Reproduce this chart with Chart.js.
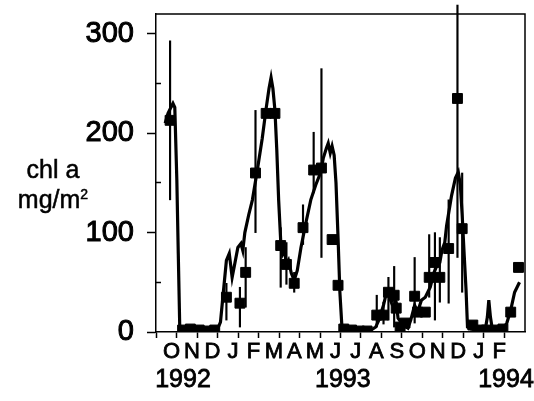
<!DOCTYPE html>
<html>
<head>
<meta charset="utf-8">
<script src="https://cdn.jsdelivr.net/npm/chart.js@4"></script>
<style>
  body { margin: 0; background: #fff; }
  #wrap { position: relative; width: 534px; height: 401px; }
  #ylab {
    position: absolute; left: 0; top: 154px; width: 106px;
    font: 25px "Liberation Sans", Arial, sans-serif; line-height: 30px;
    text-align: center; color: #000; -webkit-text-stroke: 0.5px #000;
  }
  #ylab sup { font-size: 14px; line-height: 0; }
</style>
</head>
<body>
<div id="wrap">
  <canvas id="chart" width="534" height="401"></canvas>
  <div id="ylab">chl a<br>mg/m<sup>2</sup></div>
</div>
<script>
// x values are months counted from 1 Oct 1992
const monthLetters = ['O','N','D','J','F','M','A','M','J','J','A','S','O','N','D','J','F'];
const yearLabels = ['1992', '1993', '1994'];
const yearPositions = [1.28, 8.86, 16.6];
const yTicks = [0, 100, 200, 300];
const yMinorTicks = [50, 150, 250];

// continuous record
const lineMonths = [0.19,0.33,0.47,0.57,0.66,0.76,0.83,0.90,1.00,1.14,1.33,1.52,1.71,1.90,2.09,2.32,2.56,2.75,2.89,3.03,
  3.18,3.32,3.46,3.60,3.74,3.89,3.98,4.08,4.27,4.45,4.69,4.93,5.12,5.26,5.36,5.45,5.55,5.64,5.73,5.83,
  5.92,6.02,6.11,6.21,6.35,6.49,6.64,6.82,7.06,7.30,7.54,7.77,7.91,8.06,8.15,8.25,8.34,8.44,8.53,8.63,
  8.72,8.82,9.00,9.43,9.91,10.24,10.47,10.62,10.85,11.00,11.09,11.23,11.37,11.47,11.56,11.80,12.04,12.18,12.37,12.51,
  12.70,12.89,13.13,13.32,13.46,13.60,13.70,13.84,13.93,14.17,14.36,14.50,14.60,14.69,14.79,14.88,14.95,15.12,15.36,15.59,
  15.83,15.92,15.99,16.07,16.16,16.40,16.68,16.87,17.06,17.25,17.49];
const lineValues = [210,220,226,230,226,153,79,7,3,4,5,3,4,2,3,2,3,3,10,40,
  72,79,55,70,85,89,82,100,118,133,163,195,225,245,256,245,223,183,133,92,
  78,82,68,72,59,52,62,85,110,133,148,160,175,185,190,180,187,178,150,95,
  40,5,5,4,3,2,5,12,27,40,37,30,38,30,14,7,4,12,27,20,
  32,35,45,60,67,70,82,90,107,137,155,161,148,118,77,42,5,3,2,3,
  4,15,32,15,3,2,3,9,22,40,50];

// sampled means with ranges (null = no bar visible)
const sampleMonths = [0.43,1.04,1.42,1.85,2.27,2.61,3.18,3.84,4.12,4.60,5.12,5.55,5.83,6.11,6.49,6.92,7.44,7.82,8.34,8.63,
  8.91,9.29,9.67,10.05,10.52,10.85,11.09,11.37,11.47,11.66,11.90,12.37,12.51,12.89,13.08,13.36,13.60,14.03,14.46,14.69,
  15.21,15.55,15.88,16.30,16.68,17.06,17.44];
const sampleValues = [213,2,3,2,1,2,35,29,60,160,220,220,87,68,49,105,163,165,93,47,
  3,2,1,1,17,17,40,37,24,5,9,36,20,20,55,70,55,84,235,104,
  7,2,2,2,3,20,65];
const sampleLow = [133,null,null,null,null,null,12,5,25,100,null,null,45,48,40,88,140,75,null,null,
  null,null,null,null,5,8,12,5,null,null,null,9,null,null,35,12,30,29,75,40,
  null,null,null,null,null,null,null];
const sampleHigh = [293,null,null,null,null,null,49,45,85,223,null,null,105,90,60,128,201,265,null,null,
  null,null,null,null,37,30,55,66,null,null,null,75,null,null,98,100,95,133,329,160,
  null,null,null,null,null,null,null];

const font = '"Liberation Sans", Arial, sans-serif';

const frame = {
  id: 'frame',
  afterDraw(chart) {
    const { ctx, chartArea: a } = chart;
    ctx.save();
    ctx.strokeStyle = '#000';
    ctx.lineWidth = 1.5;
    ctx.beginPath();
    ctx.moveTo(a.left, a.top);
    ctx.lineTo(a.right, a.top);
    ctx.lineTo(a.right, a.bottom);
    ctx.stroke();
    ctx.restore();
  }
};

const noPad = (s) => { s.paddingTop = 0; s.paddingBottom = 0; s.paddingLeft = 0; s.paddingRight = 0; };

const errData = [];
sampleMonths.forEach((m, i) => {
  if (sampleLow[i] !== null) errData.push({ x: m, y: [sampleLow[i], sampleHigh[i]] });
});

new Chart(document.getElementById('chart'), {
  type: 'line',
  data: {
    datasets: [
      {
        type: 'line',
        data: lineMonths.map((m, i) => ({ x: m, y: lineValues[i] })),
        borderColor: '#000',
        borderWidth: 3.2,
        pointRadius: 0,
        tension: 0
      },
      {
        type: 'line',
        data: sampleMonths.map((m, i) => ({ x: m, y: sampleValues[i] })),
        showLine: false,
        pointStyle: 'rect',
        pointRadius: 7,
        pointBackgroundColor: '#000',
        pointBorderColor: '#000',
        pointBorderWidth: 1
      },
      {
        type: 'bar',
        data: errData,
        backgroundColor: '#000',
        barThickness: 1.5,
        clip: false
      }
    ]
  },
  options: {
    responsive: false,
    animation: false,
    layout: { padding: { top: 14, right: 9, left: 0, bottom: 0 } },
    plugins: { legend: { display: false }, tooltip: { enabled: false } },
    scales: {
      x: {
        type: 'linear',
        position: 'bottom',
        weight: 0,
        min: 0,
        max: 17.5,
        afterBuildTicks: (s) => {
          const t = [];
          for (let v = 0; v <= 17; v += 0.5) t.push({ value: v });
          s.ticks = t;
        },
        afterFit: (s) => { s.height = 33; noPad(s); },
        grid: {
          drawOnChartArea: false,
          tickLength: 6,
          tickWidth: 1.5,
          tickColor: (c) => (c.tick && Number.isInteger(c.tick.value)) ? '#000' : 'rgba(0,0,0,0)'
        },
        border: { color: '#000', width: 1.5 },
        ticks: {
          autoSkip: false,
          maxRotation: 0,
          padding: 1,
          color: '#000',
          textStrokeColor: '#000',
          textStrokeWidth: 0.8,
          font: { family: font, size: 22 },
          callback: (v) => Number.isInteger(v) ? '' : monthLetters[Math.floor(v)]
        }
      },
      years: {
        type: 'linear',
        axis: 'x',
        position: 'bottom',
        weight: 1,
        min: 0,
        max: 17.5,
        afterBuildTicks: (s) => { s.ticks = yearPositions.map(v => ({ value: v })); },
        afterFit: (s) => { s.height = 36; noPad(s); },
        grid: { display: false, drawTicks: false },
        border: { display: false },
        ticks: {
          autoSkip: false,
          maxRotation: 0,
          padding: 0,
          color: '#000',
          textStrokeColor: '#000',
          textStrokeWidth: 0.8,
          font: { family: font, size: 25 },
          callback: (v) => yearLabels[yearPositions.indexOf(v)]
        }
      },
      y: {
        min: 0,
        max: 320,
        afterBuildTicks: (s) => { s.ticks = yTicks.map(v => ({ value: v })); },
        afterFit: (s) => { s.width = 156; noPad(s); },
        grid: { drawOnChartArea: false, tickLength: 9, tickWidth: 1.5, tickColor: '#000' },
        border: { color: '#000', width: 1.5 },
        ticks: {
          padding: 13,
          color: '#000',
          textStrokeColor: '#000',
          textStrokeWidth: 1,
          font: { family: font, size: 29 }
        }
      },
      yMinor: {
        axis: 'y',
        position: { x: 0 },
        min: 0,
        max: 320,
        afterBuildTicks: (s) => { s.ticks = yMinorTicks.map(v => ({ value: v })); },
        afterFit: (s) => { noPad(s); },
        grid: { drawOnChartArea: false, tickLength: 5, tickWidth: 1.5, tickColor: '#000' },
        border: { display: false },
        ticks: { display: false }
      }
    }
  },
  plugins: [frame]
});
</script>
</body>
</html>
